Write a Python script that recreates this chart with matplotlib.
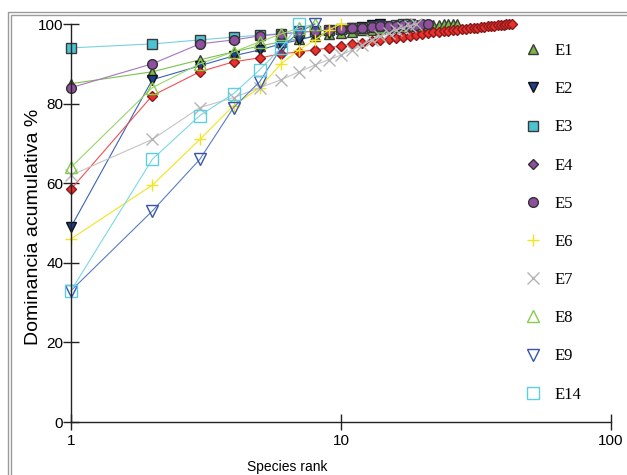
import matplotlib
matplotlib.use("Agg")
from matplotlib import pyplot as plt
from matplotlib.lines import Line2D
from matplotlib.patches import Rectangle

# cumulative dominance (%) by species rank
e1 = [85, 88, 91, 93, 94.5, 95.5, 96.3, 96.9, 97.4, 97.8, 98.1, 98.4, 98.6, 98.8,
      99.0, 99.15, 99.3, 99.4, 99.5, 99.6, 99.68, 99.75, 99.82, 99.88, 99.93, 99.97, 100]
e2 = [49, 86, 89.5, 92, 93.5, 95, 96, 97, 97.8, 98.4, 98.9, 99.3, 99.7, 100]
e3 = [94, 95, 96, 96.7, 97.2, 97.6, 97.9, 98.2, 98.45, 98.7, 98.9, 99.1, 99.3,
      99.45, 99.6, 99.75, 99.9, 100]
e4 = [58.5, 82, 88, 90.5, 91.5, 92.5, 93, 93.5, 94, 94.5, 94.9, 95.3, 95.7, 96.0,
      96.3, 96.6, 96.85, 97.1, 97.3, 97.5, 97.7, 97.9, 98.05, 98.2, 98.35, 98.5,
      98.6, 98.7, 98.8, 98.9, 99.0, 99.1, 99.2, 99.3, 99.4, 99.5, 99.6, 99.68,
      99.76, 99.84, 99.9, 99.96, 100]
e5 = [84, 90, 95, 96, 97, 97.5, 97.9, 98.2, 98.5, 98.7, 98.9, 99.1, 99.25, 99.4,
      99.5, 99.6, 99.7, 99.8, 99.87, 99.94, 100]
e6 = [46, 59.5, 71, 79.5, 84, 90, 93.5, 96, 98.5, 100]
e7 = [62, 71, 79, 81.5, 84, 86, 88, 89.7, 91, 92.2, 93.5, 94.7, 96, 97, 97.8,
      98.5, 99.1, 99.6, 100]
e8 = [64, 84, 90, 93, 95.5, 97.5, 99, 100]
e9 = [33, 53, 66, 79, 85.5, 94, 98, 100]
e14 = [33, 66, 77, 82.5, 88.5, 94, 100]

names = ["E1", "E2", "E3", "E4", "E5", "E6", "E7", "E8", "E9", "E14"]
series = [e1, e2, e3, e4, e5, e6, e7, e8, e9, e14]
x_ticks = [1, 10, 100]
y_ticks = [0, 20, 40, 60, 80, 100]

# (marker, face, edge, line colour)
styles = [
    ("^", "#79b843", "#3a3a3a", "#7cc24a"),
    ("v", "#1d3f8c", "#111111", "#3a62b8"),
    ("s", "#4cc3d3", "#3a3a3a", "#78d2de"),
    ("D", "#e8302c", "#8a1a1a", "#f05050"),
    ("o", "#8e4f9e", "#333333", "#a874c0"),
    ("+", "#f2e41e", "#f2e41e", "#f2e41e"),
    ("x", "#b4b4b4", "#b4b4b4", "#c4c4c4"),
    ("^", "none", "#86cc4a", "#98d668"),
    ("v", "none", "#3854a8", "#5a7cc6"),
    ("s", "none", "#5ccfe0", "#7ad8e6"),
]
sizes = [7, 7, 7.5, 5.5, 7, 8, 8, 8, 8, 8]

plt.rcParams["font.family"] = ["Liberation Sans", "DejaVu Sans"]

fig = plt.figure(figsize=(6.27, 4.75), dpi=100)
ax = fig.add_axes([71 / 627, 1 - 422 / 475, 540 / 627, 398 / 475])

handles = []
for name, vals, (mk, fc, ec, lc), ms in zip(names, series, styles, sizes):
    ranks = list(range(1, len(vals) + 1))
    ax.plot(ranks, vals, color=lc, lw=0.8, marker=mk, ms=ms, mfc=fc, mec=ec,
            mew=1.0, clip_on=False)
    if name == "E4":
        fc, ec = "#8e4f9e", "#333333"
    handles.append(Line2D([], [], ls="none", marker=mk, ms=ms, mfc=fc, mec=ec,
                          mew=1.0, label=name))

ax.set_xscale("log")
ax.set_xlim(1, 100)
ax.set_ylim(0, 100)
ax.set_xticks(x_ticks)
ax.set_xticklabels([str(t) for t in x_ticks])
ax.xaxis.set_minor_locator(matplotlib.ticker.NullLocator())
ax.set_yticks(y_ticks)
ax.spines["top"].set_visible(False)
ax.spines["right"].set_visible(False)
for s in ["left", "bottom"]:
    ax.spines[s].set_linewidth(1.0)
    ax.spines[s].set_color("#222222")
ax.tick_params(axis="both", direction="inout", length=11, width=1.0,
               color="#222222", labelsize=11)
ax.tick_params(axis="y", pad=0)
ax.tick_params(axis="x", pad=3)

ax.set_xlabel("Species rank", fontsize=10)
ax.xaxis.set_label_coords(0.4, -0.095)
ax.set_ylabel("Dominancia acumulativa %", fontsize=14)
ax.yaxis.set_label_coords(-0.054, 0.49)

fig.legend(handles=handles, loc="upper left",
           bbox_to_anchor=(525 / 627, 1 - 43 / 475), frameon=False,
           prop={"family": "Liberation Serif", "size": 12},
           handlelength=0.95, handletextpad=0.85, labelspacing=1.33,
           borderpad=0, borderaxespad=0)

# double grey frame round the window
for off in (0, 3):
    fig.patches.append(Rectangle(((8 + off) / 627, -0.2),
                                 1.5, 1 - (12 + off) / 475 + 0.2,
                                 transform=fig.transFigure, fill=False,
                                 ec="#9a9a9a", lw=1.0))

fig.savefig("out.png", dpi=100)
